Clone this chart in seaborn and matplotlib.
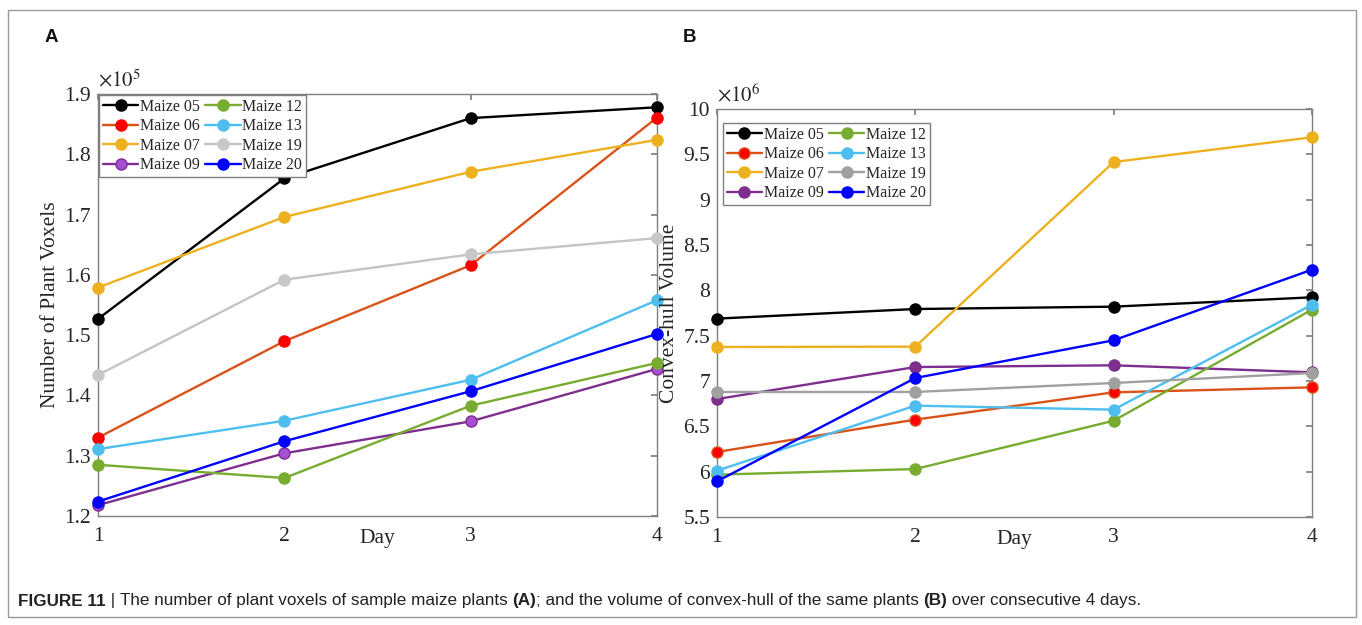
# recreates figure 11: plant voxels (A) and convex-hull volume (B) of maize plants over 4 days

import matplotlib
matplotlib.use("Agg")
import pandas as pd
import matplotlib.pyplot as plt
import seaborn as sns
from matplotlib.ticker import FuncFormatter, MultipleLocator
from matplotlib.patches import Rectangle

# the data
days = [1, 2, 3, 4]
plants = ["Maize 05", "Maize 06", "Maize 07", "Maize 09",
          "Maize 12", "Maize 13", "Maize 19", "Maize 20"]

# panel A, number of plant voxels (axis unit x10^5)
voxels_05 = [1.527, 1.760, 1.860, 1.878]
voxels_06 = [1.330, 1.490, 1.616, 1.861]
voxels_07 = [1.579, 1.696, 1.771, 1.824]
voxels_09 = [1.218, 1.304, 1.357, 1.444]
voxels_12 = [1.285, 1.263, 1.383, 1.454]
voxels_13 = [1.311, 1.358, 1.426, 1.558]
voxels_19 = [1.434, 1.592, 1.634, 1.661]
voxels_20 = [1.224, 1.324, 1.407, 1.502]

# panel B, convex-hull volume (axis unit x10^6)
hull_05 = [7.688, 7.794, 7.820, 7.923]
hull_06 = [6.217, 6.574, 6.875, 6.930]
hull_07 = [7.375, 7.379, 9.415, 9.688]
hull_09 = [6.801, 7.154, 7.173, 7.096]
hull_12 = [5.967, 6.029, 6.562, 7.787]
hull_13 = [6.011, 6.728, 6.684, 7.842]
hull_19 = [6.879, 6.879, 6.978, 7.088]
hull_20 = [5.893, 7.033, 7.449, 8.228]

voxels = [voxels_05, voxels_06, voxels_07, voxels_09,
          voxels_12, voxels_13, voxels_19, voxels_20]
hulls = [hull_05, hull_06, hull_07, hull_09,
         hull_12, hull_13, hull_19, hull_20]

# long tables for seaborn
df_a = pd.DataFrame([(p, d, v) for p, vals in zip(plants, voxels) for d, v in zip(days, vals)],
                    columns=["plant", "day", "value"])
df_b = pd.DataFrame([(p, d, v) for p, vals in zip(plants, hulls) for d, v in zip(days, vals)],
                    columns=["plant", "day", "value"])

# matlab-ish colours: (line, marker face, marker edge)
colors_a = {
    "Maize 05": ("#000000", "#000000", "#000000"),
    "Maize 06": ("#D95319", "#FF0000", "#FF0000"),
    "Maize 07": ("#EDB120", "#EDB120", "#EDB120"),
    "Maize 09": ("#7E2F8E", "#A64FD6", "#7E2F8E"),
    "Maize 12": ("#77AC30", "#77AC30", "#77AC30"),
    "Maize 13": ("#4DBEEE", "#4DBEEE", "#4DBEEE"),
    "Maize 19": ("#C4C4C4", "#C8C8C8", "#C8C8C8"),
    "Maize 20": ("#0000FF", "#0000FF", "#0000FF"),
}
colors_b = dict(colors_a)
colors_b["Maize 06"] = ("#D95319", "#FF0000", "#D95319")
colors_b["Maize 09"] = ("#7E2F8E", "#7E2F8E", "#7E2F8E")
colors_b["Maize 19"] = ("#A0A0A0", "#A0A0A0", "#A0A0A0")

sns.set_theme(style="white")
plt.rcParams["font.family"] = ["Liberation Serif", "DejaVu Serif"]
plt.rcParams["mathtext.fontset"] = "stix"

SPINE = "#7f7f7f"
TEXT = "#262626"

fig = plt.figure(figsize=(13.62, 6.25), dpi=100)
ax_a = fig.add_axes([0.0720, 0.1744, 0.4104, 0.6752])
ax_b = fig.add_axes([0.5264, 0.1728, 0.4369, 0.6528])


def draw_panel(ax, df, colors, ylim, ystep, ylabel, power, legend_anchor):
    for plant in plants:
        sub = df[df["plant"] == plant]
        line, face, edge = colors[plant]
        sns.lineplot(data=sub, x="day", y="value", ax=ax, color=line,
                     marker="o", markersize=8, markerfacecolor=face,
                     markeredgecolor=edge, markeredgewidth=1.0,
                     linewidth=1.7, label=plant, clip_on=False, zorder=3)
    ax.set_xlim(1, 4)
    ax.set_ylim(*ylim)
    ax.xaxis.set_major_locator(MultipleLocator(1))
    ax.yaxis.set_major_locator(MultipleLocator(ystep))
    ax.yaxis.set_major_formatter(FuncFormatter(lambda v, p: f"{v:g}"))
    for s in ax.spines.values():
        s.set_color(SPINE)
        s.set_linewidth(1.0)
        s.set_zorder(1)
    ax.tick_params(direction="in", top=True, right=True, length=4,
                   color=SPINE, labelcolor=TEXT, labelsize=15.5)
    ax.tick_params(axis="x", pad=8)
    ax.tick_params(axis="y", pad=5)
    ax.set_xlabel("Day", fontsize=15.5, color=TEXT, labelpad=-12)
    ax.set_ylabel(ylabel, fontsize=15.5, color=TEXT, labelpad=3)
    ax.text(0.0, 1.006, r"$\times10^{%d}$" % power, transform=ax.transAxes,
            ha="left", va="bottom", fontsize=15, color=TEXT)
    leg = ax.legend(loc="upper left", bbox_to_anchor=legend_anchor, ncol=2,
                    fontsize=11.5, frameon=True, fancybox=False,
                    edgecolor=SPINE, framealpha=1, borderaxespad=0,
                    borderpad=0.25, labelspacing=0.22, handlelength=2.2,
                    handletextpad=0.1, columnspacing=0.35)
    leg.get_frame().set_linewidth(1.0)
    leg.set_zorder(5)


draw_panel(ax_a, df_a, colors_a, (1.2, 1.9), 0.1, "Number of Plant Voxels", 5, (0.002, 0.998))
draw_panel(ax_b, df_b, colors_b, (5.5, 10), 0.5, "Convex-hull Volume", 6, (0.010, 0.966))

# panel letters
fig.text(45 / 1362, 1 - 38 / 625, "A", family="Liberation Sans", weight="bold",
         fontsize=13.5, va="center", ha="left", color="#111111")
fig.text(683 / 1362, 1 - 38 / 625, "B", family="Liberation Sans", weight="bold",
         fontsize=13.5, va="center", ha="left", color="#111111")

# frame around the whole figure
fig.patches.append(Rectangle((8 / 1362, 1 - 617 / 625), 1348 / 1362, 607 / 625,
                             transform=fig.transFigure, fill=False,
                             edgecolor="#9a9a9a", linewidth=1.0))

# caption, built from pieces so some parts can be bold
caption = [("FIGURE 11", "bold"), (" | ", "normal"),
           ("The number of plant voxels of sample maize plants ", "normal"),
           ("(A)", "bold"),
           ("; and the volume of convex-hull of the same plants ", "normal"),
           ("(B)", "bold"), (" over consecutive 4 days.", "normal")]
renderer = fig.canvas.get_renderer()
x = 18
for txt, wt in caption:
    t = fig.text(x / 1362, 1 - 601 / 625, txt, family="Liberation Sans",
                 weight=wt, fontsize=12.3, va="center", ha="left", color="#222222")
    bb = t.get_window_extent(renderer=renderer)
    x = bb.x1

fig.savefig("out.png", dpi=100)
